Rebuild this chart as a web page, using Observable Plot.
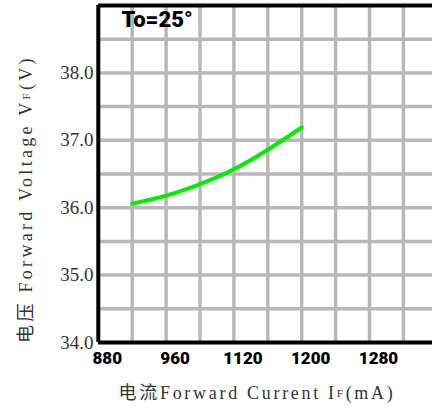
<!DOCTYPE html>
<html>
<head>
<meta charset="utf-8">
<script src="https://cdn.jsdelivr.net/npm/d3@7"></script>
<script src="https://cdn.jsdelivr.net/npm/@observablehq/plot@0.6"></script>
<style>
  html, body { margin: 0; padding: 0; background: #fff; }
  #chart svg { display: block; overflow: hidden; }
</style>
</head>
<body>
<div id="chart"></div>
<script>
// Data
const current = [920, 960, 1040, 1120, 1160, 1200];          // IF (mA)
const voltage = [36.06, 36.18, 36.35, 36.57, 36.86, 37.19];  // VF (V)

// Printed tick labels (as on the original sheet)
const xTickValues = [880, 960, 1120, 1200, 1280];
const yTickValues = [34, 35, 36, 37, 38];

// Grid lines
const xGrid = [920, 960, 1040, 1120, 1160, 1200, 1240, 1280, 1320];
const yGrid = [34.5, 35, 35.5, 36, 36.5, 37, 37.5, 38, 38.5];
const yDomain = [34, 39];

const annotation = "To=25°";

const data = current.map((c, i) => ({current: c, voltage: voltage[i]}));

const serif = "'Liberation Serif', 'Noto Sans CJK SC', serif";
const heavy = "Roboto, Lato, 'DejaVu Sans', sans-serif";

const plot = Plot.plot({
  width: 432,
  height: 409,
  marginLeft: 98,
  marginRight: 0,
  marginTop: 5,
  marginBottom: 67,
  style: {background: "#fff"},
  x: {type: "linear", domain: xTickValues, range: xTickValues.map((_, i) => 97.8 + 67.8 * i)},
  y: {domain: yDomain},
  marks: [
    Plot.ruleX(xGrid, {y1: yDomain[0], y2: yDomain[1], stroke: "#b8b8b8", strokeWidth: 3.5}),
    Plot.ruleY(yGrid, {stroke: "#b8b8b8", strokeWidth: 3.5}),
    Plot.ruleY([yDomain[0], yDomain[1]], {stroke: "#000", strokeWidth: 4}),
    Plot.ruleX([xTickValues[0]], {y1: yDomain[0], y2: yDomain[1], stroke: "#000", strokeWidth: 4}),
    Plot.lineY(data, {x: "current", y: "voltage", stroke: "#00ee00", strokeWidth: 4, curve: "natural"}),
    Plot.axisY({
      ticks: yTickValues, tickFormat: d => d.toFixed(1), tickSize: 0, tickPadding: 5,
      label: null, fontSize: 19, fontFamily: serif, fill: "#333"
    }),
    Plot.axisX({
      ticks: xTickValues, tickFormat: d => String(d), tickSize: 0, tickPadding: 9, dx: 9,
      label: null, fontSize: 17, fontWeight: 900, fontFamily: heavy, fill: "#000"
    }),
    Plot.text([annotation], {
      frameAnchor: "top-left", dx: 23, dy: 6, text: d => d,
      fontSize: 22, fontWeight: 900, fontFamily: heavy, fill: "#000", textAnchor: "start", lineAnchor: "top"
    })
  ]
});

document.getElementById("chart").appendChild(plot);

// Axis titles with the small "F" subscript
const svg = d3.select(plot);

const xt = svg.append("text")
  .attr("x", 257).attr("y", 399)
  .attr("text-anchor", "middle")
  .attr("font-family", serif).attr("font-size", 18).attr("letter-spacing", 2.7)
  .attr("fill", "#333");
xt.append("tspan").text("电流Forward Current I");
xt.append("tspan").attr("font-size", 11).attr("dy", -2).text("F");
xt.append("tspan").attr("dy", 2).text("(mA)");

const yt = svg.append("text")
  .attr("transform", "translate(32,199) rotate(-90)")
  .attr("text-anchor", "middle")
  .attr("font-family", serif).attr("font-size", 18).attr("letter-spacing", 3.3)
  .attr("fill", "#333");
yt.append("tspan").text("电压 Forward Voltage V");
yt.append("tspan").attr("font-size", 11).attr("dy", -2).text("F");
yt.append("tspan").attr("dy", 2).text("(V)");
</script>
</body>
</html>
